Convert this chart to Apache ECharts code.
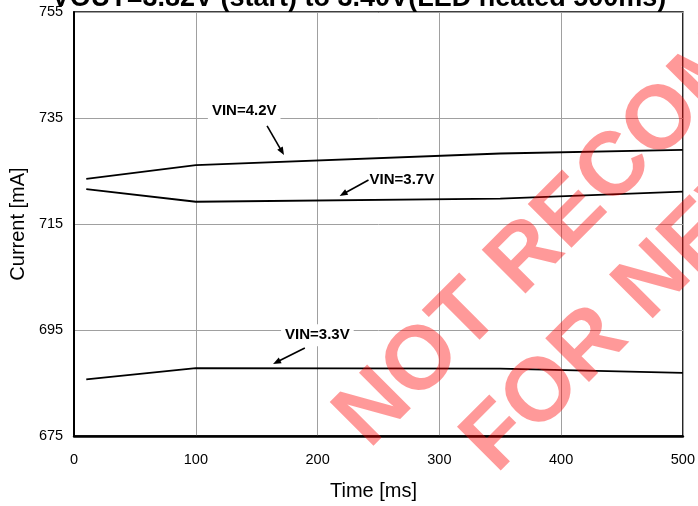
<!DOCTYPE html>
<html><head><meta charset="utf-8">
<script src="https://cdn.jsdelivr.net/npm/echarts@6/dist/echarts.min.js"></script>
<style>html,body{margin:0;padding:0;background:#fff}#c{width:698px;height:506px}</style>
</head><body><div id="c"></div>
<script>
// ---- data ----
const timeMs = [10, 100, 350, 500];
const vin42 = [723.5, 726.1, 728.3, 729.0];
const vin37 = [721.6, 719.2, 719.8, 721.1];
const vin33 = [685.7, 687.8, 687.7, 686.9];
const xTicks = [0, 100, 200, 300, 400, 500];
const yTicks = [675, 695, 715, 735, 755];
const seriesNames = ['VIN=4.2V', 'VIN=3.7V', 'VIN=3.3V'];
const titleText = 'VOUT=3.82V (start) to 3.40V(LED heated 500ms)';
const watermarkLines = ['NOT RECOMMENDED', 'FOR NEW DESIGN'];
// annotation anchors in data units
const annLabel = [[139.7, 736.3], [269.2, 723.4], [199.8, 694.0]];
const annTail  = [[158.5, 733.5], [241.8, 723.3], [189.5, 691.6]];
const annHead  = [[172.4, 728.0], [218.1, 720.3], [163.4, 688.6]];

const FONT = '"Liberation Sans", Arial, sans-serif';
const chart = echarts.init(document.getElementById('c'));
const zip = (xs, ys) => xs.map((x, i) => [x, ys[i]]);

const lineSeries = (name, ys) => ({
  name, type: 'line', data: zip(timeMs, ys), showSymbol: false, symbol: 'none',
  lineStyle: { color: '#000', width: 1.8 }, silent: true, animation: false, z: 3
});

chart.setOption({
  animation: false,
  backgroundColor: '#fff',
  grid: { left: 73, right: 13, top: 12, bottom: 70, show: true, borderColor: '#000', borderWidth: 1.5, backgroundColor: 'transparent' },
  xAxis: {
    type: 'value', min: xTicks[0], max: xTicks[xTicks.length - 1], interval: 100,
    name: 'Time [ms]', nameLocation: 'middle', nameGap: 45,
    nameTextStyle: { fontFamily: FONT, fontSize: 20, color: '#000', padding: [0, 10, 0, 0] },
    axisLine: { show: true, lineStyle: { color: '#000', width: 2.5 } },
    axisTick: { show: false },
    axisLabel: { fontFamily: FONT, fontSize: 14.5, color: '#000', margin: 16, customValues: xTicks },
    splitLine: { show: true, lineStyle: { color: '#a0a0a0', width: 1 } }
  },
  yAxis: {
    type: 'value', min: yTicks[0], max: yTicks[yTicks.length - 1],
    name: 'Current [mA]', nameLocation: 'middle', nameGap: 45,
    nameTextStyle: { fontFamily: FONT, fontSize: 20, color: '#000' },
    axisLine: { show: true, lineStyle: { color: '#000', width: 2 } },
    axisTick: { show: false, customValues: yTicks },
    axisLabel: { fontFamily: FONT, fontSize: 14.5, color: '#000', margin: 11, customValues: yTicks },
    splitLine: { show: true, lineStyle: { color: '#a0a0a0', width: 1 } }
  },
  series: [lineSeries(seriesNames[0], vin42), lineSeries(seriesNames[1], vin37), lineSeries(seriesNames[2], vin33)]
});

// ---- annotations and texts ----
const px = p => chart.convertToPixel({ gridIndex: 0 }, p);
const graphics = [];
graphics.push({
  type: 'text', x: 359, y: -1, z: 50,
  style: { text: titleText, font: 'bold 27px ' + FONT, fill: '#000', align: 'center', verticalAlign: 'middle' }
});
seriesNames.forEach((name, i) => {
  const l = px(annLabel[i]), t = px(annTail[i]), h = px(annHead[i]);
  graphics.push({
    type: 'text', x: l[0], y: l[1], z: 20,
    style: { text: name, font: 'bold 15px ' + FONT, fill: '#000', align: 'center', verticalAlign: 'middle',
      backgroundColor: '#fff', padding: [4, 4, 3, 4] }
  });
  const dx = h[0] - t[0], dy = h[1] - t[1], len = Math.hypot(dx, dy);
  const ux = dx / len, uy = dy / len, nx = -uy, ny = ux;
  const L = 8, W = 3.2;
  const bx = h[0] - ux * L, by = h[1] - uy * L;
  graphics.push({ type: 'line', z: 20, shape: { x1: t[0], y1: t[1], x2: bx + ux, y2: by + uy }, style: { stroke: '#000', lineWidth: 1.6 } });
  graphics.push({ type: 'polygon', z: 20, shape: { points: [[h[0], h[1]], [bx + nx * W, by + ny * W], [bx - nx * W, by - ny * W]] }, style: { fill: '#000' } });
});
const wmPos = [[684, 100], [760, 176]];
watermarkLines.forEach((txt, i) => {
  graphics.push({
    type: 'text', x: wmPos[i][0], y: wmPos[i][1], rotation: Math.PI / 4, z: 100,
    style: { text: txt, font: 'bold 90px ' + FONT, fill: 'rgba(255,0,0,0.4)', align: 'center', verticalAlign: 'middle' }
  });
});
chart.setOption({ graphic: graphics });
</script>
</body></html>
